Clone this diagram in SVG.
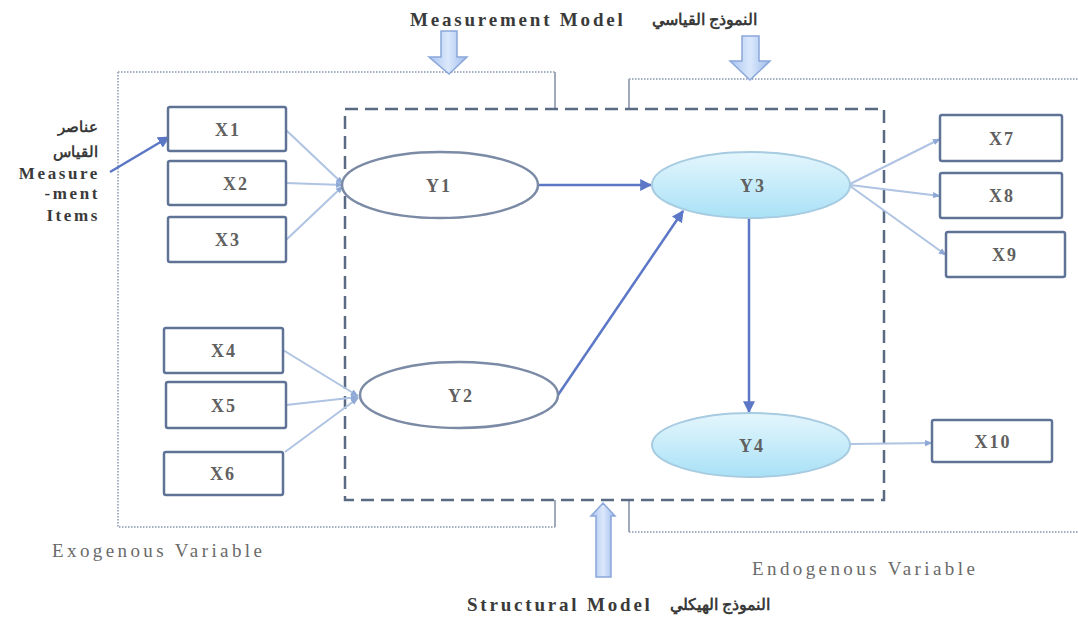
<svg xmlns="http://www.w3.org/2000/svg" width="1078" height="617" viewBox="0 0 1078 617">
  <defs>
    <linearGradient id="latentFill" x1="0" y1="0" x2="0" y2="1">
      <stop offset="0" stop-color="#e4f6fd"/>
      <stop offset="1" stop-color="#a9e1f6"/>
    </linearGradient>
    <linearGradient id="blockFill" x1="0" y1="0" x2="1" y2="0">
      <stop offset="0" stop-color="#a8c4ef"/>
      <stop offset="0.5" stop-color="#dbe8fb"/>
      <stop offset="1" stop-color="#9ebcec"/>
    </linearGradient>
    <marker id="headMainL" viewBox="0 0 10 10" refX="9" refY="5" markerWidth="12" markerHeight="12" orient="auto" markerUnits="userSpaceOnUse">
      <path d="M0,0 L10,5 L0,10 z" fill="#5b77c6"/>
    </marker>
    <marker id="headLight" viewBox="0 0 10 10" refX="9" refY="5" markerWidth="8" markerHeight="8" orient="auto" markerUnits="userSpaceOnUse">
      <path d="M0,1 L10,5 L0,9 z" fill="#8fa9d6"/>
    </marker>
    <style>
      .box { fill: #ffffff; stroke: #5f7396; stroke-width: 2.5; }
      .oval { fill: #ffffff; stroke: #7b8aa5; stroke-width: 2.5; }
      .ovalFill { fill: url(#latentFill); stroke: #a7cbe0; stroke-width: 2; }
      .lbl { font-family: "Liberation Serif", serif; font-size: 18px; font-weight: bold; fill: #606060; text-anchor: middle; letter-spacing: 2px; }
      .head { font-family: "Liberation Serif", serif; font-size: 19px; font-weight: bold; fill: #3a3a3a; letter-spacing: 2.8px; }
      .side { font-family: "Liberation Serif", serif; font-size: 17px; font-weight: bold; fill: #3a3a3a; letter-spacing: 2.6px; text-anchor: end; }
      .ar { font-family: "Noto Sans", "Liberation Sans", sans-serif; font-weight: bold; fill: #3a3a3a; letter-spacing: 0; }
      .cap { font-family: "Liberation Serif", serif; font-size: 19px; fill: #6a6a6a; letter-spacing: 3.4px; }
      .frame { fill: none; stroke: #5a6a82; stroke-width: 2.5; stroke-dasharray: 13 7; }
      .bracket { fill: none; stroke: #a4afc2; stroke-width: 2; stroke-dasharray: 1.5 1.5; }
      .tick { fill: none; stroke: #95a1b5; stroke-width: 1.8; }
      .ind { fill: none; stroke: #afc3e2; stroke-width: 2; }
      .path { fill: none; stroke: #5b77c6; stroke-width: 2.5; }
      .block { fill: url(#blockFill); stroke: #8aa7da; stroke-width: 1.5; }
    </style>
  </defs>

  <rect width="1078" height="617" fill="#ffffff"/>

  <!-- Exogenous / endogenous brackets -->
  <g id="brackets">
    <path class="bracket" d="M118,72 H555 M118,72 V527 H555"/>
    <path class="tick" d="M555,72 V108 M555,527 V500"/>
    <path class="bracket" d="M629,79 H1078 M629,532 H1078"/>
    <path class="tick" d="M629,79 V108 M629,532 V500"/>
  </g>

  <!-- Structural model frame -->
  <rect id="structural-frame" class="frame" x="345" y="109" width="539" height="391"/>

  <!-- Block arrows pointing at the two models -->
  <g id="block-arrows">
    <path class="block" d="M441,31 H457 V57 H467 L449,74 L429,57 H441 Z"/>
    <path class="block" d="M742,36 H759 V61 H770 L750,80 L730,61 H742 Z"/>
    <path class="block" d="M596,577 V516 H591 L603,503 L615,516 H611 V577 Z"/>
  </g>

  <!-- Connectors -->
  <g id="connectors">
    <line class="ind" x1="286" y1="130" x2="343" y2="184" marker-end="url(#headLight)"/>
    <line class="ind" x1="286" y1="183" x2="343" y2="185" marker-end="url(#headLight)"/>
    <line class="ind" x1="286" y1="240" x2="343" y2="186" marker-end="url(#headLight)"/>
    <line class="ind" x1="283" y1="350" x2="358" y2="396" marker-end="url(#headLight)"/>
    <line class="ind" x1="286" y1="405" x2="358" y2="397" marker-end="url(#headLight)"/>
    <line class="ind" x1="285" y1="452" x2="358" y2="398" marker-end="url(#headLight)"/>
    <line class="ind" x1="850" y1="184" x2="940" y2="139" marker-end="url(#headLight)"/>
    <line class="ind" x1="850" y1="185" x2="940" y2="196" marker-end="url(#headLight)"/>
    <line class="ind" x1="850" y1="186" x2="946" y2="255" marker-end="url(#headLight)"/>
    <line class="ind" x1="850" y1="444" x2="932" y2="443" marker-end="url(#headLight)"/>
    <line class="path" x1="538" y1="185" x2="651" y2="185" marker-end="url(#headMainL)"/>
    <line class="path" x1="558" y1="395" x2="683" y2="211" marker-end="url(#headMainL)"/>
    <line class="path" x1="749" y1="218" x2="749" y2="412" marker-end="url(#headMainL)"/>
    <line class="path" x1="110" y1="172" x2="169" y2="137" stroke-width="3.5" marker-end="url(#headMainL)"/>
  </g>

  <!-- Indicator nodes -->
  <g id="X1"><rect class="box" x="168" y="107" width="118" height="44" rx="2"/><text class="lbl" x="228" y="136">X1</text></g>
  <g id="X2"><rect class="box" x="168" y="161" width="118" height="44" rx="2"/><text class="lbl" x="236" y="190">X2</text></g>
  <g id="X3"><rect class="box" x="168" y="217" width="118" height="45" rx="2"/><text class="lbl" x="228" y="246">X3</text></g>
  <g id="X4"><rect class="box" x="164" y="328" width="119" height="45" rx="2"/><text class="lbl" x="224" y="357">X4</text></g>
  <g id="X5"><rect class="box" x="166" y="382" width="120" height="46" rx="2"/><text class="lbl" x="224" y="412">X5</text></g>
  <g id="X6"><rect class="box" x="164" y="452" width="119" height="43" rx="2"/><text class="lbl" x="223" y="480">X6</text></g>
  <g id="X7"><rect class="box" x="940" y="115" width="122" height="46" rx="2"/><text class="lbl" x="1002" y="145">X7</text></g>
  <g id="X8"><rect class="box" x="940" y="173" width="122" height="45" rx="2"/><text class="lbl" x="1002" y="202">X8</text></g>
  <g id="X9"><rect class="box" x="946" y="232" width="119" height="45" rx="2"/><text class="lbl" x="1005" y="261">X9</text></g>
  <g id="X10"><rect class="box" x="932" y="420" width="120" height="42" rx="2"/><text class="lbl" x="993" y="448">X10</text></g>

  <!-- Latent variables -->
  <g id="Y1"><ellipse class="oval" cx="440" cy="185" rx="98" ry="33"/><text class="lbl" x="439" y="192" letter-spacing="4">Y1</text></g>
  <g id="Y2"><ellipse class="oval" cx="459" cy="395" rx="99" ry="33"/><text class="lbl" x="461" y="402" letter-spacing="4">Y2</text></g>
  <g id="Y3"><ellipse class="ovalFill" cx="751" cy="185" rx="99" ry="33"/><text class="lbl" x="753" y="192" letter-spacing="4">Y3</text></g>
  <g id="Y4"><ellipse class="ovalFill" cx="751" cy="445" rx="99" ry="32"/><text class="lbl" x="752" y="452" letter-spacing="4">Y4</text></g>

  <!-- Captions -->
  <g id="captions">
    <text class="head" x="410" y="26">Measurement Model</text>
    <text class="ar" x="757" y="25" font-size="16px" text-anchor="end">النموذج القياسي</text>
    <text class="head" x="467" y="611">Structural Model</text>
    <text class="ar" x="770" y="610" font-size="16px" text-anchor="end">النموذج الهيكلي</text>
    <text class="ar" text-anchor="end" font-size="15px" x="98" y="132">عناصر</text>
    <text class="ar" text-anchor="end" font-size="15px" x="98" y="157">القياس</text>
    <text class="side" x="100" y="179">Measure</text>
    <text class="side" x="100" y="199">-ment</text>
    <text class="side" x="100" y="221">Items</text>
    <text class="cap" x="52" y="557">Exogenous Variable</text>
    <text class="cap" x="752" y="575">Endogenous Variable</text>
  </g>
</svg>
